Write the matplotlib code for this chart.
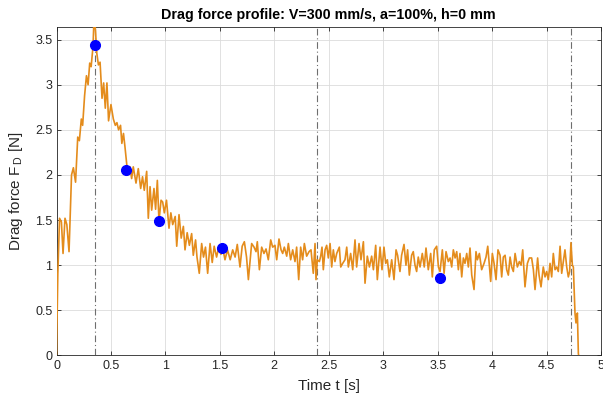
import matplotlib

matplotlib.use("Agg")
import matplotlib.pyplot as plt

# drag force trace (t in s, F in N)
TIME = [
    0.0, 0.012, 0.028, 0.045, 0.06, 0.078, 0.095, 0.115, 0.138, 0.155,
    0.175, 0.195, 0.21, 0.228, 0.24, 0.258, 0.275, 0.29, 0.305, 0.318,
    0.335, 0.345, 0.358, 0.37, 0.385, 0.40, 0.418, 0.433, 0.448, 0.463,
    0.478, 0.50, 0.522, 0.54, 0.555, 0.57, 0.588, 0.60, 0.615, 0.628,
    0.638, 0.655, 0.675, 0.69, 0.705, 0.73, 0.751, 0.773, 0.79, 0.806,
    0.828, 0.843, 0.859, 0.874, 0.895, 0.91, 0.926, 0.941, 0.96, 0.975,
    0.99, 1.01, 1.033, 1.05, 1.067, 1.09, 1.104, 1.125, 1.145, 1.165,
    1.18, 1.2, 1.22, 1.241, 1.256, 1.277, 1.29, 1.311, 1.333, 1.35,
    1.368, 1.388, 1.41, 1.43, 1.448, 1.47, 1.492, 1.51, 1.525, 1.547,
    1.57, 1.595, 1.618, 1.64, 1.66, 1.685, 1.705, 1.725, 1.745, 1.762,
    1.792, 1.814, 1.832, 1.844, 1.863, 1.884, 1.905, 1.924, 1.945, 1.967,
    1.985, 2.006, 2.022, 2.043, 2.062, 2.077, 2.092, 2.114, 2.129, 2.150,
    2.169, 2.190, 2.205, 2.224, 2.242, 2.260, 2.276, 2.297, 2.319, 2.337,
    2.358, 2.374, 2.383, 2.395, 2.414, 2.426, 2.438, 2.450, 2.466, 2.481,
    2.496, 2.512, 2.527, 2.542, 2.557, 2.573, 2.597, 2.610, 2.628, 2.649,
    2.665, 2.680, 2.701, 2.720, 2.741, 2.756, 2.778, 2.796, 2.818, 2.833,
    2.854, 2.873, 2.894, 2.910, 2.931, 2.946, 2.971, 2.989, 3.007, 3.023,
    3.038, 3.056, 3.078, 3.099, 3.118, 3.132, 3.154, 3.169, 3.191, 3.209,
    3.224, 3.240, 3.261, 3.276, 3.292, 3.307, 3.322, 3.338, 3.359, 3.377,
    3.393, 3.414, 3.436, 3.451, 3.469, 3.491, 3.507, 3.522, 3.543, 3.559,
    3.577, 3.598, 3.614, 3.629, 3.644, 3.660, 3.675, 3.690, 3.705, 3.721,
    3.736, 3.751, 3.767, 3.782, 3.797, 3.813, 3.834, 3.852, 3.865, 3.883,
    3.904, 3.926, 3.944, 3.960, 3.975, 3.987, 4.002, 4.018, 4.036, 4.054,
    4.073, 4.088, 4.103, 4.119, 4.134, 4.149, 4.165, 4.180, 4.195, 4.211,
    4.232, 4.250, 4.266, 4.281, 4.302, 4.324, 4.342, 4.363, 4.379, 4.394,
    4.418, 4.431, 4.449, 4.470, 4.486, 4.501, 4.516, 4.532, 4.547, 4.562,
    4.578, 4.593, 4.608, 4.624, 4.639, 4.654, 4.669, 4.685, 4.700, 4.712,
    4.724, 4.737, 4.746, 4.761, 4.770, 4.783, 4.792, 4.795,
]
FORCE = [
    0.0, 0.9, 1.52, 1.48, 1.13, 1.52, 1.45, 1.15, 2.0, 2.08,
    1.92, 2.42, 2.38, 2.62, 2.55, 2.88, 3.1, 3.0, 3.24, 3.2,
    3.42, 3.75, 3.6, 3.35, 3.22, 3.25, 2.85, 3.02, 2.74, 3.02,
    2.6, 2.78, 2.62, 2.55, 2.58, 2.5, 2.55, 2.35, 2.46, 2.32,
    2.2, 2.0, 2.09, 1.96, 2.09, 1.91, 2.07, 1.85, 1.98, 1.83,
    2.04, 1.52, 1.87, 1.61, 1.85, 1.62, 1.94, 1.49, 1.72, 1.70,
    1.58, 1.72, 1.41, 1.58, 1.45, 1.54, 1.21, 1.56, 1.30, 1.43,
    1.17, 1.36, 1.22, 1.35, 1.11, 1.28, 1.09, 0.91, 1.24, 1.09,
    1.2, 0.91, 1.24, 1.03, 1.21, 1.09, 1.21, 1.12, 1.2, 1.06,
    1.17, 1.06, 1.17, 1.09, 1.23, 0.98, 1.21, 1.26, 1.09, 0.84,
    1.24, 1.20, 1.15, 1.26, 0.95, 1.20, 1.13, 1.18, 1.06, 1.28,
    1.20, 1.22, 1.06, 1.29, 1.17, 1.13, 1.20, 1.10, 1.24, 1.06,
    1.17, 1.04, 1.20, 0.84, 1.20, 1.06, 1.24, 1.10, 1.15, 1.17,
    0.91, 1.24, 0.84, 1.06, 1.04, 1.10, 1.20, 0.95, 1.17, 1.22,
    1.08, 1.24, 0.98, 1.17, 1.04, 1.13, 1.20, 0.98, 1.02, 1.06,
    1.20, 0.98, 1.13, 0.95, 1.28, 0.98, 1.24, 1.06, 1.26, 0.80,
    1.10, 0.98, 1.10, 0.95, 1.22, 0.84, 1.20, 0.95, 1.20, 1.02,
    1.06, 0.87, 1.06, 0.84, 1.17, 1.11, 0.93, 1.11, 1.23, 1.00,
    1.17, 0.89, 1.11, 1.15, 1.00, 0.93, 1.09, 0.98, 1.13, 0.98,
    1.19, 0.95, 1.13, 0.87, 1.17, 1.21, 0.98, 0.93, 1.17, 0.91,
    1.15, 1.04, 1.08, 0.98, 1.17, 1.08, 1.15, 0.95, 1.13, 0.87,
    1.08, 1.02, 1.13, 0.98, 1.19, 0.89, 0.73, 1.15, 1.06, 1.13,
    0.95, 1.02, 1.09, 1.21, 1.00, 0.82, 1.13, 1.02, 0.84, 1.17,
    1.11, 0.87, 1.09, 1.11, 0.95, 0.89, 1.09, 0.98, 0.93, 1.13,
    0.98, 1.04, 1.00, 1.17, 0.76, 1.02, 1.08, 1.08, 0.95, 0.73,
    1.08, 0.89, 0.76, 0.98, 0.87, 0.93, 0.84, 1.02, 0.87, 1.13,
    0.95, 0.98, 0.93, 1.21, 0.91, 1.04, 1.17, 0.98, 0.87, 0.93,
    1.25, 1.00, 0.98, 0.47, 0.36, 0.47, 0.02, 0.0,
]

# blue markers
MARK_T = [0.356, 0.638, 0.941, 1.52, 3.52]
MARK_F = [3.44, 2.05, 1.49, 1.19, 0.86]

# dash-dot phase boundaries
PHASE_T = [0.35, 2.39, 4.724]

X_TICKS = [0, 0.5, 1, 1.5, 2, 2.5, 3, 3.5, 4, 4.5, 5]
Y_TICKS = [0, 0.5, 1, 1.5, 2, 2.5, 3, 3.5]

TITLE = "Drag force profile: V=300 mm/s, a=100%, h=0 mm"


def main() -> None:
    plt.rcParams.update(
        {
            "font.family": ["Liberation Sans", "DejaVu Sans"],
            "font.size": 9,
            "mathtext.fontset": "custom",
            "mathtext.rm": "Liberation Sans",
            "axes.edgecolor": "#262626",
            "axes.linewidth": 0.6,
        }
    )
    fig = plt.figure(figsize=(6.03, 4.01), dpi=100)
    ax = fig.add_axes([0.0937, 0.1137, 0.903, 0.8183])

    ax.plot(TIME, FORCE, color="#E48C1C", linewidth=1.2, zorder=3)
    for t in PHASE_T:
        ax.axvline(t, color="#6e6e6e", linestyle=(0, (6, 2.5, 1, 2.5)),
                   linewidth=0.8, zorder=2)
    ax.plot(MARK_T, MARK_F, "o", color="#0000FF", markersize=7, zorder=4)

    ax.set_xlim(0, 5)
    ax.set_ylim(0, 3.637)
    ax.set_xticks(X_TICKS)
    ax.set_xticklabels([f"{v:g}" for v in X_TICKS])
    ax.set_yticks(Y_TICKS)
    ax.set_yticklabels([f"{v:g}" for v in Y_TICKS])
    ax.tick_params(direction="in", length=3, width=0.6, top=True, right=True,
                   colors="#262626", labelsize=9, pad=3)
    ax.grid(True, color="#dcdcdc", linewidth=0.6)
    ax.set_axisbelow(True)

    ax.set_xlabel("Time t [s]", fontsize=11, color="#262626", labelpad=5)
    ax.set_ylabel(r"Drag force F$_{\,\mathrm{D}}$ [N]", fontsize=11,
                  color="#262626", labelpad=7)
    ax.set_title(TITLE, fontsize=10.3, fontweight="bold", pad=6)

    fig.savefig("out.png", dpi=100)
    plt.close(fig)


if __name__ == "__main__":
    main()
